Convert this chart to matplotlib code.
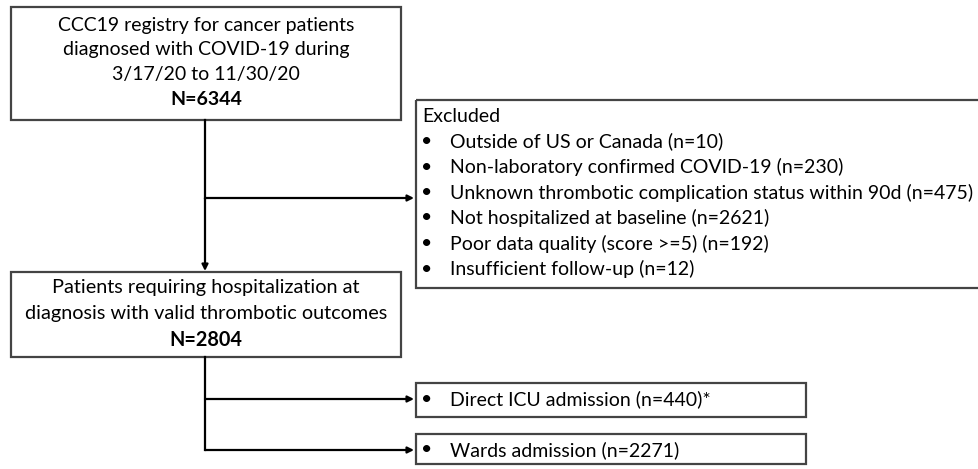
import matplotlib.pyplot as plt
from matplotlib.patches import Rectangle

plt.rcParams['font.family'] = ['Lato', 'DejaVu Sans']

# Flowchart content
top_lines = ["CCC19 registry for cancer patients",
             "diagnosed with COVID-19 during",
             "3/17/20 to 11/30/20"]
top_n = "N=6344"

excluded_title = "Excluded"
excluded_items = ["Outside of US or Canada (n=10)",
                  "Non-laboratory confirmed COVID-19 (n=230)",
                  "Unknown thrombotic complication status within 90d (n=475)",
                  "Not hospitalized at baseline (n=2621)",
                  "Poor data quality (score >=5) (n=192)",
                  "Insufficient follow-up (n=12)"]

mid_lines = ["Patients requiring hospitalization at",
             "diagnosis with valid thrombotic outcomes"]
mid_n = "N=2804"

split_items = ["Direct ICU admission (n=440)*",
               "Wards admission (n=2271)"]

W, H = 979, 469
fig = plt.figure(figsize=(W / 100, H / 100), dpi=100)
ax = fig.add_axes([0, 0, 1, 1])
ax.set_xlim(0, W)
ax.set_ylim(H, 0)
ax.axis('off')

edge = '#444444'
fs = 14


def box(x0, y0, x1, y1):
    ax.add_patch(Rectangle((x0, y0), x1 - x0, y1 - y0, fill=False,
                           edgecolor=edge, linewidth=1.6))


def arrow(x0, y0, x1, y1):
    ax.annotate("", xy=(x1, y1), xytext=(x0, y0),
                arrowprops=dict(arrowstyle='-|>', color='black', lw=1.6,
                                mutation_scale=9, shrinkA=0, shrinkB=0))


# top box
box(11, 7, 401, 120)
for i, t in enumerate(top_lines + [top_n]):
    ax.text(206, 25 + i * 24.7, t, ha='center', va='center', fontsize=fs,
            fontweight='bold' if t == top_n else 'normal')

# excluded box (runs off right edge)
box(416, 100, 985, 288)
ax.text(422, 116, excluded_title, ha='left', va='center', fontsize=fs)
for i, t in enumerate(excluded_items):
    y = 116 + (i + 1) * 25.5
    ax.text(427, y, "\u2022", ha='center', va='center', fontsize=fs)
    ax.text(450, y, t, ha='left', va='center', fontsize=fs)

# middle box
box(11, 272, 401, 357)
for i, t in enumerate(mid_lines + [mid_n]):
    ax.text(206, 288 + i * 26, t, ha='center', va='center', fontsize=fs + 0.3,
            fontweight='bold' if t == mid_n else 'normal')

# split boxes
split_y = [(383, 417), (434, 464)]
for (y0, y1), t in zip(split_y, split_items):
    box(416, y0, 806, y1)
    yc = y0 + 16
    ax.text(427, yc, "\u2022", ha='center', va='center', fontsize=fs)
    ax.text(450, yc, t, ha='left', va='center', fontsize=fs)

# connectors
ax.plot([205, 205], [120, 198], color='black', lw=1.6)
arrow(205, 198, 414, 198)
arrow(205, 198, 205, 271)
ax.plot([205, 205], [357, 450], color='black', lw=1.6)
arrow(205, 399, 414, 399)
arrow(205, 450, 414, 450)

fig.savefig("out.png", dpi=100)
